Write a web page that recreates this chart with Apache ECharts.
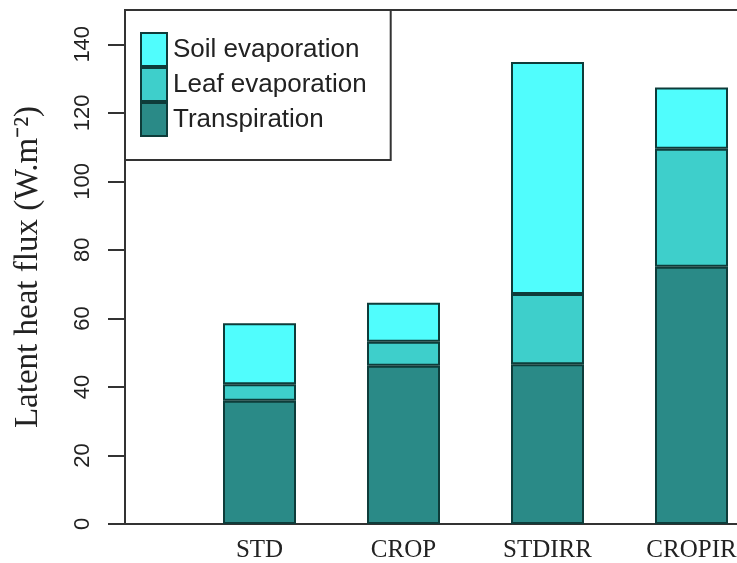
<!DOCTYPE html>
<html>
<head>
<meta charset="utf-8">
<script src="https://cdn.jsdelivr.net/npm/echarts@6/dist/echarts.min.js"></script>
<style>
html,body{margin:0;padding:0;background:#fff;overflow:hidden;}
#chart{width:737px;height:563px;}
</style>
</head>
<body>
<div id="chart"></div>
<script>
const categories = ['STD', 'CROP', 'STDIRR', 'CROPIR'];
const transpiration = [36.0, 46.2, 46.6, 75.1];
const leafEvaporation = [4.8, 7.0, 20.5, 34.4];
const soilEvaporation = [17.8, 11.4, 67.7, 17.9];
const yTicks = [0, 20, 40, 60, 80, 100, 120, 140];
const seriesNames = ['Transpiration', 'Leaf evaporation', 'Soil evaporation'];
const legendOrder = ['Soil evaporation', 'Leaf evaporation', 'Transpiration'];

const colors = {
  'Transpiration': '#2a8a87',
  'Leaf evaporation': '#3ecfcb',
  'Soil evaporation': '#50fdfd'
};
const values = {
  'Transpiration': transpiration,
  'Leaf evaporation': leafEvaporation,
  'Soil evaporation': soilEvaporation
};

const chart = echarts.init(document.getElementById('chart'), null, {renderer: 'canvas'});
const option = {
  animation: false,
  backgroundColor: '#ffffff',
  grid: [
    {left: 187.5, width: 576, top: 10, bottom: 39, show: false, containLabel: false, outerBoundsMode: 'none'},
    {left: 125, width: 660, top: 10, bottom: 39, show: true, borderColor: '#333', borderWidth: 2, backgroundColor: 'transparent', z: 0, containLabel: false, outerBoundsMode: 'none'}
  ],
  legend: {
    orient: 'vertical',
    left: 125,
    top: 10,
    padding: [22, 24, 23, 15],
    itemGap: 0,
    itemWidth: 26,
    itemHeight: 33,
    icon: 'rect',
    borderColor: '#333',
    borderWidth: 2,
    backgroundColor: '#fff',
    data: legendOrder,
    textStyle: {fontFamily: 'Liberation Sans', fontSize: 26, color: '#222', padding: [2, 0, 0, 1]},
    z: 5
  },
  xAxis: [
    {
      type: 'category', gridIndex: 0, data: categories,
      axisLine: {show: false}, axisTick: {show: false},
      axisLabel: {fontFamily: 'Liberation Serif', fontSize: 25, color: '#222', margin: 14}
    },
    {type: 'value', gridIndex: 1, show: false}
  ],
  yAxis: [
    {
      type: 'value', gridIndex: 0, min: 0, max: 150, interval: 10,
      offset: 62.5,
      axisLine: {show: false},
      splitLine: {show: false},
      axisTick: {show: true, length: 17, customValues: yTicks, lineStyle: {color: '#333', width: 2}},
      axisLabel: {customValues: yTicks, rotate: 90, fontFamily: 'Liberation Sans', fontSize: 22, color: '#222', margin: 31},
      name: 'Latent heat flux (W.m⁻²)',
      nameLocation: 'middle',
      nameRotate: 90,
      nameGap: 80,
      nameTextStyle: {fontFamily: 'Liberation Serif', fontSize: 33, color: '#222'}
    },
    {type: 'value', gridIndex: 1, show: false}
  ],
  series: seriesNames.map(name => ({
    name: name,
    type: 'bar',
    stack: 'total',
    xAxisIndex: 0,
    yAxisIndex: 0,
    barWidth: 73,
    data: values[name],
    itemStyle: {color: colors[name], borderColor: '#0e3c3a', borderWidth: 2},
    emphasis: {disabled: true}
  }))
};
chart.setOption(option);
</script>
</body>
</html>
